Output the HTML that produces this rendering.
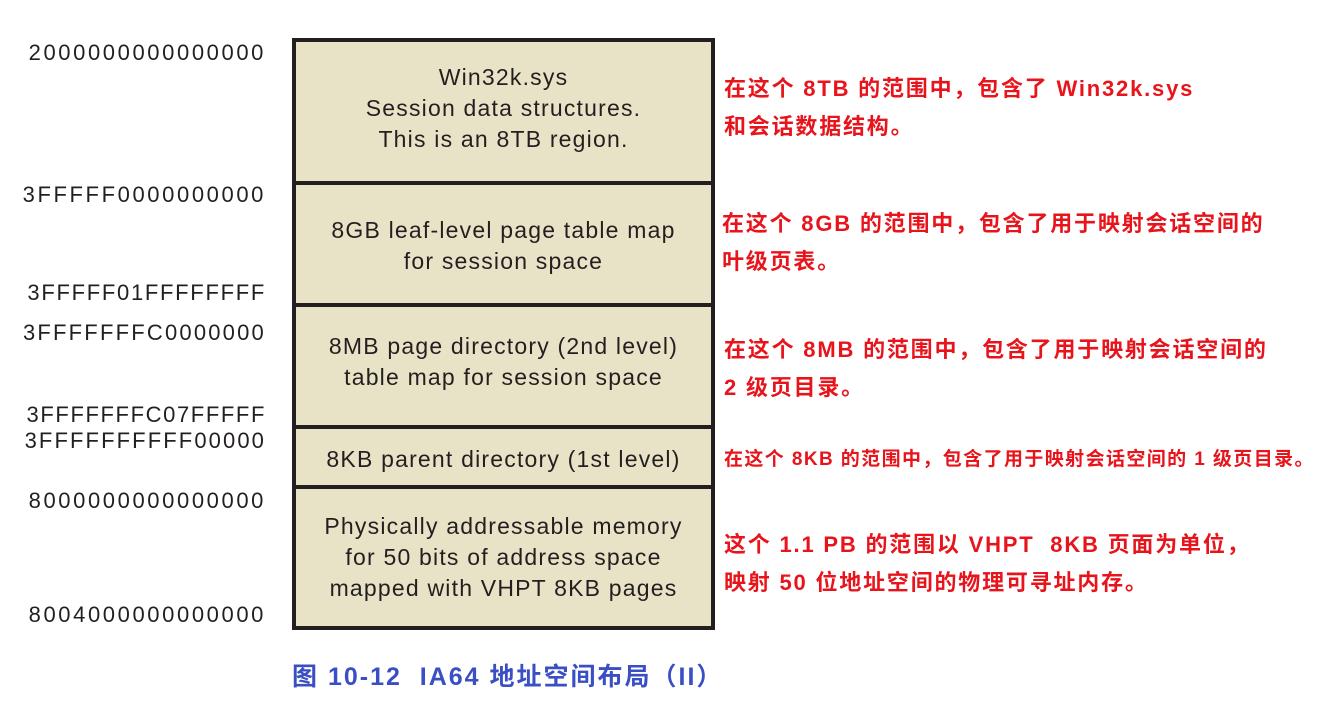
<!DOCTYPE html>
<html><head><meta charset="utf-8"><style>
body{margin:0;width:1332px;height:708px;background:#fff;position:relative;overflow:hidden;font-family:"Liberation Sans","Noto Sans CJK SC",sans-serif}
.a{position:absolute;right:1066px;font-size:22px;color:#231f20;white-space:nowrap;letter-spacing:2.6px}
.box{position:absolute;left:292px;width:415px;background:#e8e3c6;border:4px solid #231f20;top:38px;height:584px}
.d{position:absolute;left:292px;width:423px;height:4px;background:#231f20}
.t{position:absolute;left:296px;width:415px;text-align:center;font-size:23px;line-height:31px;color:#231f20;letter-spacing:1.2px;white-space:nowrap}
.r{position:absolute;left:724px;color:#e8141c;font-weight:bold;font-size:22px;line-height:38px;white-space:nowrap;letter-spacing:1.8px}
</style></head><body>
<div class="a" style="top:40px">2000000000000000</div>
<div class="a" style="top:182px">3FFFFF0000000000</div>
<div class="a" style="top:280px;letter-spacing:1.7px">3FFFFF01FFFFFFFF</div>
<div class="a" style="top:320px;letter-spacing:2.2px">3FFFFFFFC0000000</div>
<div class="a" style="top:402px;letter-spacing:1.6px">3FFFFFFFC07FFFFF</div>
<div class="a" style="top:428px;letter-spacing:2.1px">3FFFFFFFFFF00000</div>
<div class="a" style="top:488px">8000000000000000</div>
<div class="a" style="top:602px">8004000000000000</div>
<div class="box"></div>
<div class="d" style="top:181px"></div>
<div class="d" style="top:303px"></div>
<div class="d" style="top:425px"></div>
<div class="d" style="top:485px"></div>
<div class="t" style="top:62px">Win32k.sys<br>Session data structures.<br>This is an 8TB region.</div>
<div class="t" style="top:215px">8GB leaf-level page table map<br>for session space</div>
<div class="t" style="top:331px">8MB page directory (2nd level)<br>table map for session space</div>
<div class="t" style="top:444px">8KB parent directory (1st level)</div>
<div class="t" style="top:511px">Physically addressable memory<br>for 50 bits of address space<br>mapped with VHPT 8KB pages</div>
<div class="r" style="top:70px">在这个 8TB 的范围中，包含了 Win32k.sys<br>和会话数据结构。</div>
<div class="r" style="top:205px;left:722px">在这个 8GB 的范围中，包含了用于映射会话空间的<br>叶级页表。</div>
<div class="r" style="top:331px">在这个 8MB 的范围中，包含了用于映射会话空间的<br>2 级页目录。</div>
<div class="r" style="top:441px;font-size:19px;letter-spacing:1.4px">在这个 8KB 的范围中，包含了用于映射会话空间的 1 级页目录。</div>
<div class="r" style="top:526px">这个 1.1 PB 的范围以 VHPT &nbsp;8KB 页面为单位，<br>映射 50 位地址空间的物理可寻址内存。</div>
<div style="position:absolute;left:292px;top:657px;font-size:25px;font-weight:bold;color:#3b4fc4;white-space:nowrap;letter-spacing:2px">图 10-12&nbsp; IA64 地址空间布局（II）</div>
</body></html>
